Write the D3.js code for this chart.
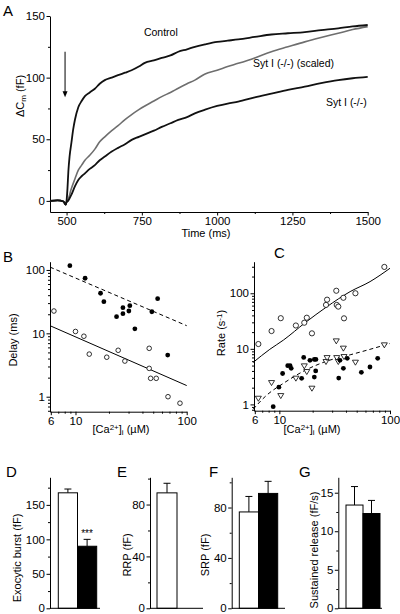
<!DOCTYPE html>
<html><head><meta charset="utf-8">
<script src="https://cdn.jsdelivr.net/npm/d3@7"></script>
<style>
body{margin:0;background:#fff;}
svg{display:block;font-family:"Liberation Sans",Arial,sans-serif;}
</style></head><body>
<svg id="c" width="400" height="614"></svg>
<script>
// ---------- Panel A: capacitance traces ----------
const tControl = [445,470,490,497,500,503,506,510,516,522,528,539,550,561,577,594,610,627,650,671,694,716,740,760,790,816,845,871,900,926,960,1000,1035,1070,1125,1180,1235,1291,1345,1402,1450,1500];
const vControl = [0,0.5,-0.5,-3,0,10,24,36,47,58,66,76,81,85,88,91,95,98,100,102,104,106,109,112,114,116,118,121,123,125,127,129,130,131,133,135,136,137,138.5,140,141.5,142.7];
const tScaled = [445,470,490,497,500,505,516,528,539,550,561,577,594,610,627,650,671,694,716,740,760,790,816,845,871,900,926,960,1000,1035,1070,1125,1180,1235,1291,1345,1402,1450,1500];
const vScaled = [0,0.5,-0.5,-3,-1,1,10,18,25,29,33,37,42,48,52,57,61,66,70,74,77,81,84.6,88,91.4,95,98,103,106,109,111.6,116,121,125,129,132.5,136,139,141.4];
const tKO = [445,470,490,497,500,505,510,516,528,539,550,561,577,594,610,627,650,671,694,716,740,760,790,816,845,871,900,926,960,1000,1035,1070,1125,1180,1235,1291,1345,1402,1450,1500];
const vKO = [0,0.5,-0.5,-3,-1,0,2,5,12,17,20,22.4,26,29,33,36,40,43,46,49.5,52,54,57,60,63,65.7,68,71,74,77,79,80.5,84,87,90,92.7,95.5,98,99.5,100.6];
const aXTicks = [500,750,1000,1250,1500];
const aXMinor = [625,875,1125,1375];
const aYTicks = [0,50,100,150];
const aYMinor = [25,75,125];

// ---------- Panel B: delay vs [Ca] ----------
const bCtrlCa   = [6.4,10,11.9,13.3,19.1,24.2,27.8,46,46,47.4,53.2,67.9,87];
const bCtrlDelay= [22.5,10.7,9.0,4.7,4.2,5.4,3.65,5.8,2.8,1.95,1.95,1.0,0.79];
const bKOCa     = [8.9,12.2,16.8,18,23.4,26.7,26.7,30.2,30.8,34.2,48.6,54.8,67.5];
const bKODelay  = [117,74,42.9,31.6,18.3,25.4,20.4,22.5,27.3,11.8,21.9,35.2,4.54];
const bFitCtrl  = [[5.9,13.2],[100,1.5]];
const bFitKO    = [[5.9,111],[100,13.2]];

// ---------- Panel C: rate vs [Ca] ----------
const cCtrlCa   = [6.46,8.5,10.3,14.1,16.8,17.7,19.7,26.4,27,32.7,33,34.1,37.9,38.4,48.7,88.9];
const cCtrlRate = [12.2,20.9,35.6,26.3,29.5,36.3,19,61.7,76.7,111,61.7,57.5,83,35.4,100,298];
const cKOCa     = [8.8,9.9,10.7,11.9,12.5,12.8,15.9,16.6,18.9,20.7,21.4,20.7,21.3,34.4,35.3,37.9,41.1,55.1,65.9,77.4];
const cKORate   = [0.91,2.04,3.6,4.97,4.97,4.46,2.94,7.0,6.2,6.46,6.46,3.1,4.0,2.98,6.2,4.46,6.75,3.78,4.71,6.75];
const cSlowCa   = [6.46,8.5,10.3,14.1,16.8,17.7,19.7,26.4,27,32.7,33,34.1,37.9,38.4,48.7,88.9];
const cSlowRate = [1.28,2.45,1.43,2.94,4.9,3.87,1.94,5.86,6.9,13.8,6.9,5.86,10.2,7.2,5.7,11.7];
const cFitCtrl  = [[5.8,5.7],[8.2,9.8],[10.9,14.4],[17.1,29.5],[26.8,57],[43.6,107],[66,162],[100,282]];
const cFitSlow  = [[5.8,0.82],[7.7,1.47],[10.9,2.4],[17.1,4.1],[26.8,6.0],[43.6,7.8],[66,9.8],[100,12.5]];
const logMajor = [1,10,100];

// ---------- Panels D-G: bars (control, Syt I -/-) ----------
const groups = ["control","sytKO"];
const dMean = [167.5,90],   dErrTop = [173,100];
const eMean = [89,null],    eErrTop = [96.4,null];
const fMean = [76.5,91.2],  fErrTop = [88.8,100.8];
const gMean = [13.4,12.3],  gErrTop = [15.8,14.0];
const dTicks=[0,50,100,150], dMinor=[25,75,125,175];
const eTicks=[0,40,80],      eMinor=[20,60,100];
const fTicks=[0,40,80],      fMinor=[20,60,100];
const gTicks=[0,5,10,15],    gMinor=[2.5,7.5,12.5];

const svg = d3.select("#c");
const FONT = 11.5;

function axis(scale, orient, tx, ty, major, minor, fmt){
  const mk = orient==="left" ? d3.axisLeft : d3.axisBottom;
  if (minor && minor.length){
    const gm = svg.append("g").attr("transform",`translate(${tx},${ty})`)
      .call(mk(scale).tickValues(minor).tickSize(2).tickFormat("").tickSizeOuter(0));
    gm.select(".domain").remove();
    gm.selectAll("line").attr("stroke","#000");
  }
  const g = svg.append("g").attr("transform",`translate(${tx},${ty})`)
    .call(mk(scale).tickValues(major).tickSize(3.5).tickPadding(1.5).tickFormat(fmt).tickSizeOuter(0));
  g.select(".domain").attr("stroke","#000").attr("stroke-width",1);
  g.selectAll("line").attr("stroke","#000");
  g.selectAll("text").attr("font-size",FONT).attr("fill","#000")
    .style("font-family","'Liberation Sans',Arial,sans-serif");
  return g;
}
function letter(t,x,y){
  svg.append("text").attr("x",x).attr("y",y).attr("font-size",15).attr("fill","#000").text(t);
}
function addParts(t, parts){
  parts.forEach(p=>{
    const s = t.append("tspan").text(p.t);
    if(p.sub){ s.attr("font-size",8).attr("baseline-shift","-25%"); }
    if(p.sup){ s.attr("font-size",8).attr("baseline-shift","40%"); }
  });
}
function ytitle(x,y,parts){
  const t = svg.append("text").attr("transform",`translate(${x},${y}) rotate(-90)`)
    .attr("text-anchor","middle").attr("font-size",11).attr("fill","#000");
  addParts(t,parts);
}
function xtitle(x,y,parts){
  const t = svg.append("text").attr("x",x).attr("y",y).attr("text-anchor","middle").attr("font-size",11).attr("fill","#000");
  addParts(t,parts);
}
const caParts = [{t:"[Ca"},{t:"2+",sup:true},{t:"]"},{t:"i",sub:true},{t:" (\u00B5M)"}];

// ===== Panel A =====
const xA = d3.scaleLinear().domain([445,1500]).range([50,367.7]);
const yA = d3.scaleLinear().domain([-9,150]).range([212,16]);
axis(xA,"bottom",0,212,aXTicks,aXMinor,d3.format("d"));
axis(yA,"left",50,0,aYTicks,aYMinor,d3.format("d"));
const lineA = d3.line().x(d=>xA(d[0])).y(d=>yA(d[1])).curve(d3.curveMonotoneX);
svg.append("path").datum(d3.zip(tScaled,vScaled)).attr("d",lineA)
  .attr("fill","none").attr("stroke","#6e6e6e").attr("stroke-width",1.6);
svg.append("path").datum(d3.zip(tKO,vKO)).attr("d",lineA)
  .attr("fill","none").attr("stroke","#111").attr("stroke-width",1.8);
svg.append("path").datum(d3.zip(tControl,vControl)).attr("d",lineA)
  .attr("fill","none").attr("stroke","#111").attr("stroke-width",1.8);
// arrow (stimulus)
const arrowT = 495, arrowFrom = 121, arrowTo = 84;
svg.append("line").attr("x1",xA(arrowT)).attr("x2",xA(arrowT))
  .attr("y1",yA(arrowFrom)).attr("y2",yA(arrowTo)-5).attr("stroke","#000").attr("stroke-width",1);
svg.append("path").attr("d",`M${xA(arrowT)-2.5},${yA(arrowTo)-6} L${xA(arrowT)+2.5},${yA(arrowTo)-6} L${xA(arrowT)},${yA(arrowTo)} Z`).attr("fill","#000");
svg.append("text").attr("x",xA(813)).attr("y",yA(134)).attr("text-anchor","middle").attr("font-size",10.5).attr("fill","#000").text("Control");
svg.append("text").attr("x",xA(1119)).attr("y",yA(108.6)).attr("font-size",10.5).attr("fill","#000").text("Syt I (-/-) (scaled)");
svg.append("text").attr("x",xA(1497)).attr("y",yA(77)).attr("text-anchor","end").attr("font-size",10.5).attr("fill","#000").text("Syt I (-/-)");
ytitle(24,96,[{t:"\u0394C"},{t:"m",sub:true},{t:" (fF)"}]);
xtitle(206,237,[{t:"Time (ms)"}]);
letter("A",3,16);

// ===== Panel B =====
const xB = d3.scaleLog().domain([5.9,100]).range([50,186.7]);
const yB = d3.scaleLog().domain([0.58,135]).range([411.7,261.7]);
const minorLog = (lo,hi)=>{const r=[];[0.1,1,10,100].forEach(m=>{for(let k=2;k<10;k++){const v=k*m;if(v>=lo&&v<=hi&&v!==1&&v!==10&&v!==100)r.push(v);}});return r;};
axis(xB,"bottom",0,411.7,[6,10,100],minorLog(6,100).filter(v=>v!==6),d3.format("d"));
axis(yB,"left",50,0,logMajor,minorLog(0.58,135),d3.format("d"));
const lineB = d3.line().x(d=>xB(d[0])).y(d=>yB(d[1]));
svg.append("path").datum(bFitKO).attr("d",lineB).attr("stroke","#000").attr("stroke-dasharray","4,3").attr("fill","none");
svg.append("path").datum(bFitCtrl).attr("d",lineB).attr("stroke","#000").attr("fill","none");
svg.append("g").selectAll("circle").data(d3.zip(bKOCa,bKODelay)).join("circle")
  .attr("cx",d=>xB(d[0])).attr("cy",d=>yB(d[1])).attr("r",2.4).attr("fill","#000");
svg.append("g").selectAll("circle").data(d3.zip(bCtrlCa,bCtrlDelay)).join("circle")
  .attr("cx",d=>xB(d[0])).attr("cy",d=>yB(d[1])).attr("r",2.3).attr("fill","#fff").attr("stroke","#000").attr("stroke-width",0.8);
ytitle(17,340,[{t:"Delay (ms)"}]);
xtitle(121,433,caParts);
letter("B",3,262);

// ===== Panel C =====
const xC = d3.scaleLog().domain([5.9,100]).range([254,390]);
const yC = d3.scaleLog().domain([0.77,370]).range([410.7,261.7]);
axis(xC,"bottom",0,410.7,[6,10,100],minorLog(6,100).filter(v=>v!==6),d3.format("d"));
axis(yC,"left",254,0,logMajor,minorLog(0.77,370),d3.format("d"));
const lineC = d3.line().x(d=>xC(d[0])).y(d=>yC(d[1])).curve(d3.curveMonotoneX);
svg.append("path").datum(cFitCtrl).attr("d",lineC).attr("stroke","#000").attr("fill","none");
svg.append("path").datum(cFitSlow).attr("d",lineC).attr("stroke","#000").attr("stroke-dasharray","4,3").attr("fill","none");
svg.append("g").selectAll("circle").data(d3.zip(cCtrlCa,cCtrlRate)).join("circle")
  .attr("cx",d=>xC(d[0])).attr("cy",d=>yC(d[1])).attr("r",2.6).attr("fill","#fff").attr("stroke","#000").attr("stroke-width",0.8);
svg.append("g").selectAll("path").data(d3.zip(cSlowCa,cSlowRate)).join("path")
  .attr("d",d=>{const x=xC(d[0]),y=yC(d[1]);return `M${x-3},${y-2.2} L${x+3},${y-2.2} L${x},${y+2.8} Z`;})
  .attr("fill","#fff").attr("stroke","#000").attr("stroke-width",0.8);
svg.append("g").selectAll("circle").data(d3.zip(cKOCa,cKORate)).join("circle")
  .attr("cx",d=>xC(d[0])).attr("cy",d=>yC(d[1])).attr("r",2.4).attr("fill","#000");
ytitle(225,333,[{t:"Rate (s"},{t:"-1",sup:true},{t:")"}]);
xtitle(312,433,caParts);
letter("C",274,258);

// ===== Bar panels =====
function barPanel(ax, right, yMax, mean, errTop, ticks, minor, title, titleX, titleY, lett, lettX, barL, barR){
  const y = d3.scaleLinear().domain([0,yMax]).range([608.3,477.3]);
  const x = d3.scaleBand().domain(groups).range([barL,barR]).padding(0);
  const data = groups.map((g,i)=>({g,m:mean[i],e:errTop[i],i}));
  const valid = data.filter(d=>d.m!=null);
  const gb = svg.append("g");
  gb.selectAll("line.err").data(valid).join("line")
    .attr("x1",d=>x(d.g)+x.bandwidth()/2).attr("x2",d=>x(d.g)+x.bandwidth()/2)
    .attr("y1",d=>y(d.m)).attr("y2",d=>y(d.e)).attr("stroke","#000");
  gb.selectAll("line.cap").data(valid).join("line")
    .attr("x1",d=>x(d.g)+x.bandwidth()/2-3.5).attr("x2",d=>x(d.g)+x.bandwidth()/2+3.5)
    .attr("y1",d=>y(d.e)).attr("y2",d=>y(d.e)).attr("stroke","#000");
  gb.selectAll("rect").data(valid).join("rect")
    .attr("x",d=>x(d.g)).attr("width",x.bandwidth())
    .attr("y",d=>y(d.m)).attr("height",d=>y(0)-y(d.m))
    .attr("fill",d=>d.i===0?"#fff":"#000").attr("stroke","#000").attr("stroke-width",1);
  axis(y,"left",ax,0,ticks,minor,d3.format("d"));
  svg.append("line").attr("x1",ax).attr("x2",right).attr("y1",608.3).attr("y2",608.3).attr("stroke","#000");
  ytitle(titleX,titleY,[{t:title}]);
  letter(lett,lettX,477);
}
barPanel(50,100,190,dMean,dErrTop,dTicks,dMinor,"Exocytic burst (fF)",21,558,"D",6,58.3,96.7);
svg.append("text").attr("x",87).attr("y",537).attr("text-anchor","middle").attr("font-size",10).attr("fill","#000").text("***");
barPanel(150,203,101,eMean,eErrTop,eTicks,eMinor,"RRP (fF)",131,555,"E",117,157,197);
barPanel(231.7,285,104,fMean,fErrTop,fTicks,fMinor,"SRP (fF)",209,555,"F",209,239.3,277.7);
barPanel(338.3,382,17,gMean,gErrTop,gTicks,gMinor,"Sustained release (fF/s)",318,550,"G",299,346,380);
</script>
</body></html>
